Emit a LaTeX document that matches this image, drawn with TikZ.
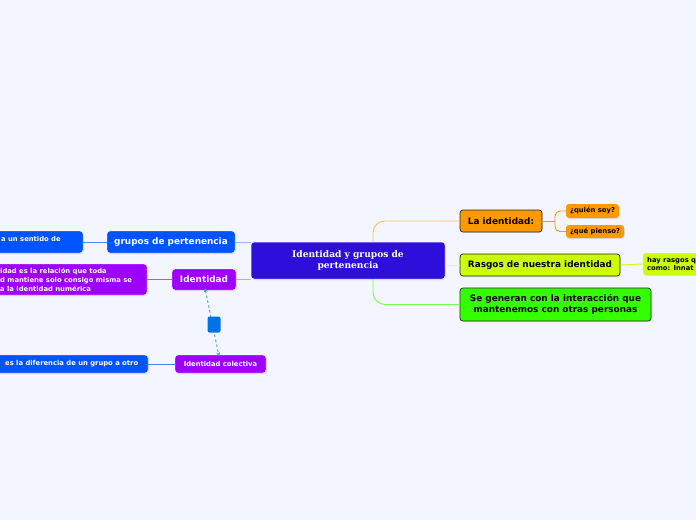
\documentclass[tikz,border=0pt]{standalone}
\usepackage{fontspec}
\setmainfont{DejaVu Sans}
\newfontfamily\titlefont{DejaVu Serif}
\usetikzlibrary{arrows.meta,shadows}
\definecolor{bgc}{RGB}{243,246,254}
\definecolor{cenc}{RGB}{46,14,218}
\definecolor{bluec}{RGB}{0,84,255}
\definecolor{purc}{RGB}{158,0,255}
\definecolor{orc}{RGB}{255,153,0}
\definecolor{ygc}{RGB}{204,255,0}
\definecolor{grc}{RGB}{51,255,0}
\definecolor{sqc}{RGB}{0,114,232}
\definecolor{lblue}{RGB}{150,180,255}
\definecolor{lpur}{RGB}{210,150,255}
\definecolor{lor}{RGB}{255,190,100}
\definecolor{lyg}{RGB}{225,255,130}
\definecolor{lgr}{RGB}{110,255,70}
\definecolor{bordc}{RGB}{40,40,40}
\begin{document}
\begin{tikzpicture}[x=1pt,y=-1pt,
  box/.style={rounded corners=3pt, inner sep=0pt, align=center,
    drop shadow={opacity=0.18, shadow xshift=0.8pt, shadow yshift=-1pt}},
  bigtxt/.style={font=\bfseries\fontsize{8.9}{11}\selectfont},
  smalltxt/.style={font=\bfseries\fontsize{6.8}{8.9}\selectfont},
  bluebox/.style={box, fill=bluec, draw=white, line width=0.4pt, text=white},
  purbox/.style={box, fill=purc, draw=white, line width=0.4pt, text=white},
  darkbox/.style={box, draw=bordc, line width=0.7pt, text=black},
  conn/.style={line width=0.9pt},
]
\useasboundingbox (0,0) rectangle (696,520);
\fill[bgc] (0,0) rectangle (696,520);
\clip (0,0) rectangle (696,520);

\coordinate (ctop) at (373,242);
\coordinate (cbot) at (373,279);
\coordinate (br) at (555,221);

% nodes
\node[box, fill=cenc, draw=white, line width=0.5pt, text=white,
  minimum width=194pt, minimum height=37pt,
  font=\titlefont\bfseries\fontsize{9.1}{11}\selectfont] (central) at (348,260.5)
  {Identidad y grupos de\\pertenencia};

\node[bluebox, bigtxt, minimum width=128pt, minimum height=22pt] (grupos) at (171,242) {grupos de pertenencia};
\node[bluebox, minimum width=103pt, minimum height=22pt] (leftblue) at (31.5,242) {};
\node[smalltxt, text=white, anchor=west, inner sep=0pt] (leftbluetxt) at (1,238.5) {a un sentido de};

\node[purbox, bigtxt, minimum width=64pt, minimum height=21pt] (identidad) at (204,279.5) {Identidad};
\node[purbox, minimum width=167pt, minimum height=31pt] (leftpur) at (63.5,279.5) {};
\node[smalltxt, text=white, anchor=west, inner sep=0pt, align=left] (leftpurtxt) at (0,280)
  {idad es la relación que toda\\d mantiene solo consigo misma se\\a la identidad numérica};

\node[purbox, smalltxt, minimum width=91pt, minimum height=18pt] (colectiva) at (220.5,364) {Identidad colectiva};
\node[bluebox, minimum width=168pt, minimum height=18pt] (diferencia) at (64,364) {};
\node[smalltxt, text=white, anchor=west, inner sep=0pt] (diftxt) at (5,364) {es la diferencia de un grupo a otro};

\node[darkbox, fill=orc, bigtxt, minimum width=82pt, minimum height=22pt] (laid) at (501,221) {La identidad:};
\node[box, fill=orc, smalltxt, minimum width=53pt, minimum height=14pt] (quien) at (592.5,211) {¿quién soy?};
\node[box, fill=orc, smalltxt, minimum width=58pt, minimum height=13pt] (que) at (595,231.5) {¿qué pienso?};

\node[darkbox, fill=ygc, bigtxt, minimum width=160pt, minimum height=22pt] (rasgos) at (540,265) {Rasgos de nuestra identidad};
\node[box, fill=ygc, minimum width=76pt, minimum height=22pt] (hay) at (681,264) {};
\node[smalltxt, anchor=west, inner sep=0pt, align=left] (haytxt) at (647,264) {hay rasgos q\\como: Innat};

\node[darkbox, fill=grc, bigtxt, minimum width=191pt, minimum height=33pt] (segen) at (555.5,304.5)
  {Se generan con la interacción que\\mantenemos con otras personas};

% connectors
\draw[conn, lor, rounded corners=12pt] (ctop) |- (laid.west);
\draw[conn, lgr, rounded corners=12pt] (cbot) |- (segen.west);
\draw[conn, lyg] (central.east |- rasgos.west) -- (rasgos.west);
\draw[conn, lblue] (grupos.east) -- (central.west |- grupos.east);
\draw[conn, lpur] (identidad.east) -- (central.west |- identidad.east);
\draw[conn, bluec!70] (leftblue.east) -- (grupos.west);
\draw[conn, purc!70] (leftpur.east) -- (identidad.west);
\draw[conn, bluec!70] (diferencia.east) -- (colectiva.west);
\draw[conn, orc] (laid.east) -- (br);
\draw[conn, orc, rounded corners=5pt] (br) |- (quien.west);
\draw[conn, orc, rounded corners=5pt] (br) |- (que.west);
\draw[conn, ygc] (rasgos.east) -- (hay.west);

\draw[sqc!75, line width=0.9pt, dash pattern=on 2.5pt off 2.5pt,
  {Stealth[length=4pt,width=4pt]}-{Stealth[length=4pt,width=4pt]}]
  ([xshift=1pt,yshift=2pt]identidad.south) -- ([xshift=-1.5pt,yshift=-1.5pt]colectiva.north);
\node[rounded corners=2pt, fill=sqc, minimum width=13pt, minimum height=16pt, inner sep=0pt] (sq) at (214,324.5) {};
\end{tikzpicture}
\end{document}
